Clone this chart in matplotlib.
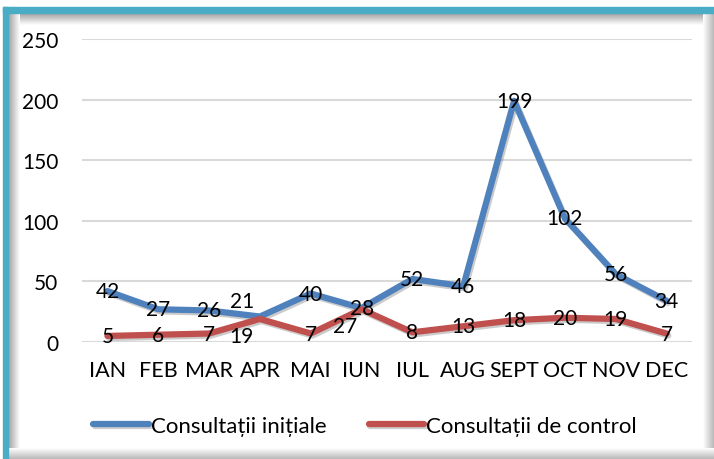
import numpy as np
import matplotlib
matplotlib.use('Agg')
import matplotlib.pyplot as plt
import matplotlib.patheffects as pe
from matplotlib.patches import Rectangle

plt.rcParams['font.family'] = ['Lato', 'DejaVu Sans']

# date
luni = ['IAN', 'FEB', 'MAR', 'APR', 'MAI', 'IUN', 'IUL', 'AUG', 'SEPT', 'OCT', 'NOV', 'DEC']
initiale = [42, 27, 26, 21, 40, 28, 52, 46, 199, 102, 56, 34]
control = [5, 6, 7, 19, 7, 27, 8, 13, 18, 20, 19, 7]
y_ticks = [0, 50, 100, 150, 200, 250]

ALBASTRU = '#4F81BD'
ROSU = '#C0504D'
TEAL = '#4BACC6'

W, H = 714, 460
fig = plt.figure(figsize=(W / 100, H / 100), dpi=100)
fig.patch.set_facecolor('white')

# fundal: rama cu umbra
bg = fig.add_axes([0, 0, 1, 1], zorder=-5)
bg.set_xlim(0, W)
bg.set_ylim(H, 0)
bg.axis('off')

def gradient(x0, x1, y0, y1, vertical, reverse=False, dark=0.55):
    g = np.linspace(dark, 1.0, 64)
    if reverse:
        g = g[::-1]
    img = g[:, None] if vertical else g[None, :]
    bg.imshow(img, cmap='gray', vmin=0, vmax=1, extent=(x0, x1, y1, y0),
              aspect='auto', interpolation='bicubic', zorder=1)

gradient(8, W, 14, 26, vertical=True, dark=0.62)          # umbra interioara sus
gradient(8, 20, 14, H, vertical=False, dark=0.62)         # umbra interioara stanga
gradient(703, W, 14, H, vertical=False, reverse=True, dark=0.72)  # umbra dreapta
gradient(8, W, 449, H, vertical=True, reverse=True, dark=0.72)    # umbra jos
bg.add_patch(Rectangle((3, 8), W - 3, 6, color=TEAL, zorder=3))
bg.add_patch(Rectangle((3, 8), 5, H - 8, color=TEAL, zorder=3))

# grafic principal
ax = fig.add_axes([82 / W, 117 / H, 610 / W, 303 / H])
ax.set_facecolor('none')
x = np.arange(len(luni))

umbra = [pe.SimpleLineShadow(offset=(1.2, -1.5), alpha=0.3, shadow_color='#555555'), pe.Normal()]
ax.plot(x, initiale, color=ALBASTRU, lw=4.5, solid_capstyle='round', solid_joinstyle='round',
        path_effects=umbra, label='Consultații inițiale', zorder=3)
ax.plot(x, control, color=ROSU, lw=4.5, solid_capstyle='round', solid_joinstyle='round',
        path_effects=umbra, label='Consultații de control', zorder=3)

# etichete de date (unele mutate manual)
deplasari_init = {3: (-13, 11)}
deplasari_ctrl = {3: (-13, -12), 5: (-12, -12)}
for i, v in enumerate(initiale):
    dx, dy = deplasari_init.get(i, (0, 0))
    ax.annotate(str(v), (x[i], v), xytext=(dx, dy), textcoords='offset points',
                ha='center', va='center', fontsize=15, zorder=5)
for i, v in enumerate(control):
    dx, dy = deplasari_ctrl.get(i, (0, 0))
    ax.annotate(str(v), (x[i], v), xytext=(dx, dy), textcoords='offset points',
                ha='center', va='center', fontsize=15, zorder=5)

ax.set_xlim(-0.5, len(luni) - 0.5)
ax.set_ylim(0, 250)
ax.set_yticks(y_ticks)
ax.set_xticks(x)
ax.set_xticklabels(luni)
ax.tick_params(axis='y', length=0, labelsize=15, pad=17)
ax.tick_params(axis='x', length=0, labelsize=15.5, pad=13)
ax.grid(axis='y', color='#D9D9D9', lw=1.5)
ax.set_axisbelow(True)
for s in ax.spines.values():
    s.set_visible(False)

fig.legend(loc='center', bbox_to_anchor=(365 / W, 1 - 427 / H), ncol=2, frameon=False,
           fontsize=16, handlelength=2.5, handletextpad=0.1, columnspacing=1.9)

fig.savefig('out.png', dpi=100)
